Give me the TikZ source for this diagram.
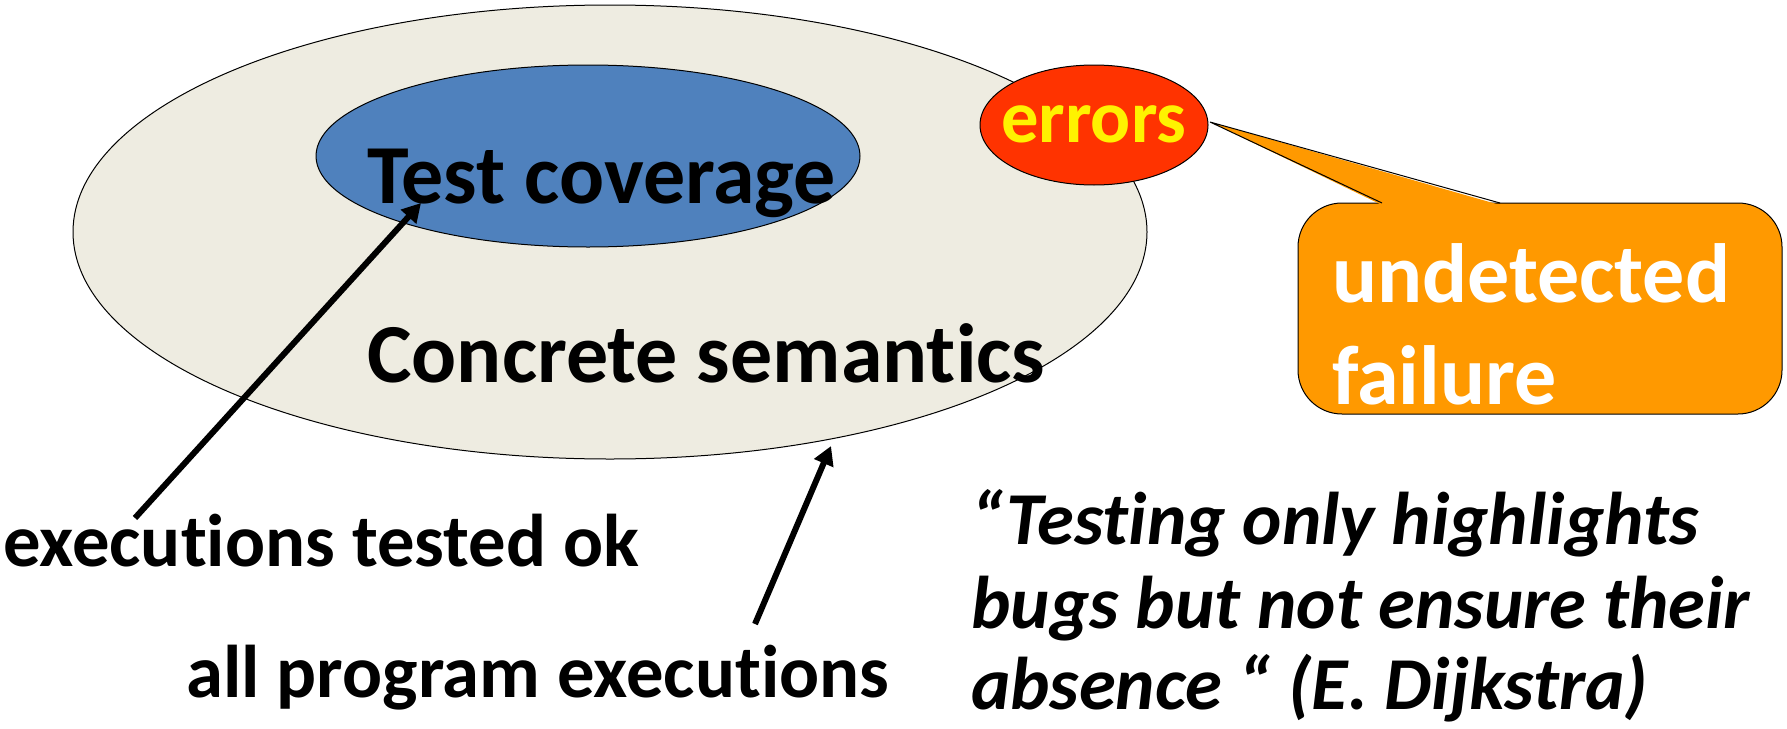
\documentclass[tikz,border=0pt]{standalone}
\usepackage{fontspec}
\setmainfont{Carlito}[Ligatures={NoCommon}]
\usetikzlibrary{arrows.meta}

\definecolor{semfill}{RGB}{238,236,225}
\definecolor{covblue}{RGB}{79,129,189}
\definecolor{errred}{RGB}{255,51,0}
\definecolor{failorange}{RGB}{255,153,0}

\begin{document}
\begin{tikzpicture}[x=0.75pt,y=0.75pt,yscale=-1,xscale=1,
	bigtxt/.style={font=\bfseries\fontsize{63}{72}\selectfont},
	lbltxt/.style={font=\bfseries\fontsize{56}{64}\selectfont},
	quotetxt/.style={font=\bfseries\itshape\fontsize{56}{64}\selectfont},
	ptr/.style={line width=4.5pt,-{Triangle[length=14pt,width=15pt]}}]
	\useasboundingbox (0,0) rectangle (1787,728);
	
	%Shape: Ellipse [id:semantics]
	\draw [fill=semfill,line width=0.75] (610,232) ellipse [x radius=537, y radius=227];
	%Shape: Ellipse [id:coverage]
	\draw [fill=covblue,line width=0.75] (588,156) ellipse [x radius=272, y radius=91];
	%Shape: Rounded Rect [id:failure]
	\draw [fill=failorange,line width=0.75,rounded corners=33] (1298,203) rectangle (1782,414);
	%Shape: Callout pointer [id:pointer]
	\fill [failorange] (1382,205) -- (1210,122) -- (1500,205) -- cycle;
	\draw [line width=0.75] (1382,203) -- (1210,122) -- (1500,203);
	%Shape: Ellipse [id:errors]
	\draw [fill=errred,line width=0.75] (1094,125) ellipse [x radius=114, y radius=60];
	
	% Text Node
	\draw (367,203) node [anchor=base west,inner sep=0pt,bigtxt] (cov) {Test coverage};
	% Text Node
	\draw (367,382) node [anchor=base west,inner sep=0pt,bigtxt] (sem) {Concrete semantics};
	% Text Node
	\draw (1001,142) node [anchor=base west,inner sep=0pt,lbltxt,text=yellow] (err) {errors};
	% Text Node
	\draw (1332,302) node [anchor=base west,inner sep=0pt,bigtxt,text=white] (undet) {undetected};
	\draw (1332,404) node [anchor=base west,inner sep=0pt,bigtxt,text=white] (fail) {failure};
	% Text Node
	\draw (3,566) node [anchor=base west,inner sep=0pt,lbltxt] (tested) {executions tested ok};
	% Text Node
	\draw (186,697) node [anchor=base west,inner sep=0pt,lbltxt] (allexec) {all program executions};
	% Text Node
	\draw (971,544) node [anchor=base west,inner sep=0pt,quotetxt] (qa) {“Testing only highlights};
	\draw (971,628) node [anchor=base west,inner sep=0pt,quotetxt] (qb) {bugs but not ensure their};
	\draw (971,709) node [anchor=base west,inner sep=0pt,quotetxt] (qc) {absence “ (E. Dijkstra)};
	
	% Arrows
	\coordinate (tailA) at (135,518);
	\coordinate (tipA) at (421,203);
	\coordinate (tailB) at (755,624);
	\coordinate (tipB) at (831,446);
	\draw [ptr] (tailA) -- (tipA);
	\draw [ptr] (tailB) -- (tipB);
	
\end{tikzpicture}
\end{document}
